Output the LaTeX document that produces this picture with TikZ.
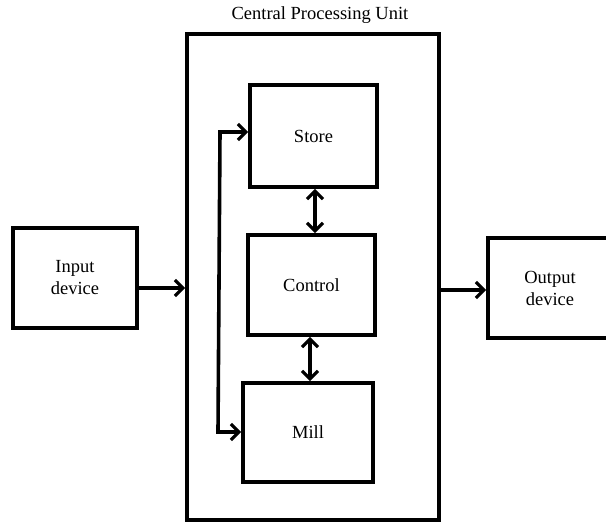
\documentclass[tikz,border=0pt]{standalone}
\usepackage{fontspec}
\setmainfont{Liberation Serif}
\usetikzlibrary{arrows.meta}
\begin{document}
\begin{tikzpicture}[x=1pt,y=-1pt,
  blk/.style={draw, line width=3.6pt, inner sep=0pt},
  lbl/.style={font=\fontsize{18.5}{22}\selectfont, align=center},
  tip/.tip={Straight Barb[length=8pt,width=16pt,line width=3.2pt]},
  link/.style={line width=3.6pt, -tip},
  dlink/.style={line width=3.6pt, tip-tip}]
  \useasboundingbox (0,0) rectangle (606,528);
  % processing unit enclosure
  \node[blk, minimum width=252pt, minimum height=486pt] (cpu) at (313,277) {};
  \node[lbl] (title) at (320,15) {Central Processing Unit};
  % inner units
  \node[blk, minimum width=127pt, minimum height=102pt] (store) at (313.5,136) {};
  \node[lbl] at (store) {Store};
  \node[blk, minimum width=127pt, minimum height=100pt] (control) at (311.5,285) {};
  \node[lbl] at (control) {Control};
  \node[blk, minimum width=130pt, minimum height=99pt] (mill) at (308,432.5) {};
  \node[lbl] at (mill) {Mill};
  % peripherals
  \node[blk, minimum width=124pt, minimum height=100pt] (in) at (75,278) {};
  \node[lbl] at (in) {Input\\device};
  \node[blk, minimum width=124pt, minimum height=100pt] (out) at (550,288) {};
  \node[lbl] at (out) {Output\\device};
  % connections
  \coordinate (fbtop) at (220,132);
  \coordinate (fbbot) at (218,432);
  \draw[link] (in.east |- 0,288) -- (cpu.west |- 0,288);
  \draw[link] (cpu.east |- 0,290) -- (out.west |- 0,290);
  \draw[dlink] (store.south -| 315,0) -- (control.north -| 315,0);
  \draw[dlink] (control.south -| 310,0) -- (mill.north -| 310,0);
  \draw[dlink] (store.west |- fbtop) -- (fbtop) -- (fbbot) -- (mill.west |- fbbot);
\end{tikzpicture}
\end{document}
